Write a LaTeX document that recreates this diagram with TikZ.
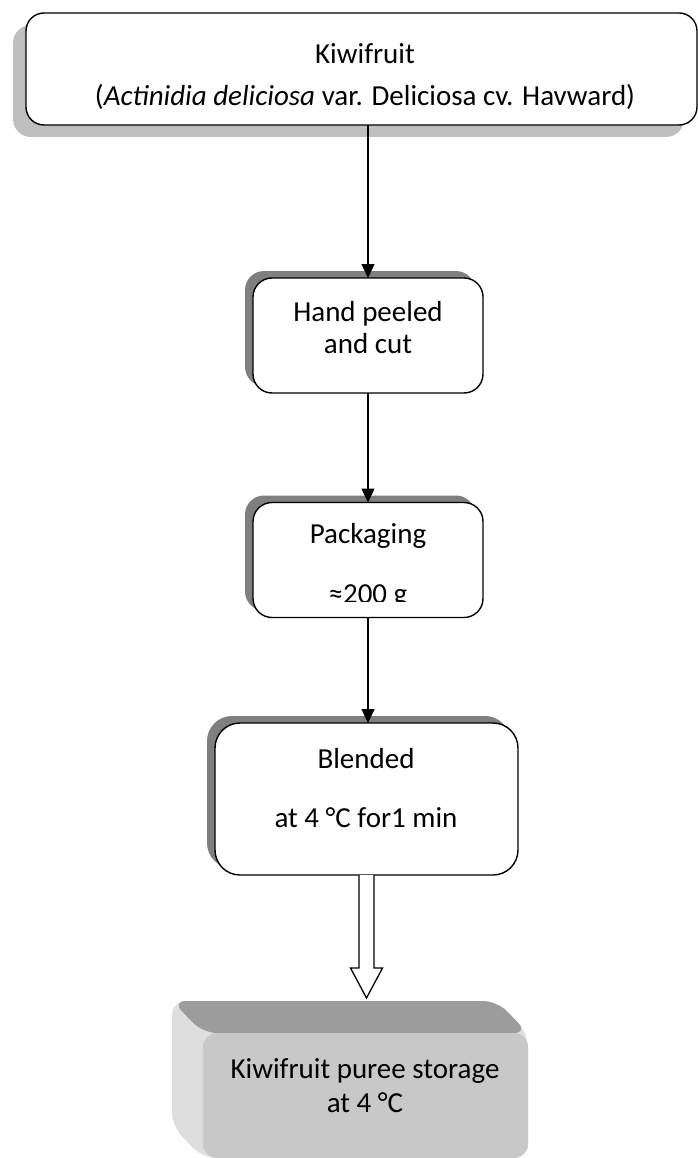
\documentclass[tikz,border=0pt]{standalone}
\usepackage{fontspec}
\setmainfont{Carlito}
\usetikzlibrary{arrows.meta,calc,shadows}
\definecolor{shadowlight}{HTML}{BFBFBF}
\definecolor{shadowdark}{HTML}{7F7F7F}
\definecolor{bevtop}{HTML}{9C9C9C}
\definecolor{bevside}{HTML}{DEDEDE}
\definecolor{bevfront}{HTML}{C8C8C8}
% top bevel: light where it meets the side face, then flat grey
\pgfdeclarehorizontalshading{bevtopshade}{100bp}{color(0bp)=(bevside); color(2bp)=(bevside); color(12bp)=(bevtop); color(100bp)=(bevtop)}
\begin{document}
\begin{tikzpicture}[x=1pt,y=-1pt,
  every node/.style={inner sep=0pt, outer sep=0pt},
  txt/.style={anchor=base, font=\fontsize{29}{34}\selectfont},
  procbox/.style={draw=black, line width=1.4pt, fill=white, rounded corners=#1},
  softshadow/.style={general shadow={fill=shadowlight, shadow xshift=-13pt, shadow yshift=-12pt}},
  hardshadow/.style={general shadow={fill=shadowdark, shadow xshift=-8pt, shadow yshift=7pt}},
  flow/.style={draw=black, line width=1.5pt, -{Triangle[length=14pt,width=13pt]}},
  hollow/.style={draw=black, line width=1.3pt, fill=white, line join=miter}
]
\useasboundingbox (0,0) rectangle (697,1158);

% process boxes
\node[procbox=18pt, softshadow, minimum width=671pt, minimum height=112pt] (src) at (361.5,69) {};
\node[procbox=19pt, hardshadow, minimum width=230pt, minimum height=115pt] (peel) at (368,335.5) {};
\node[procbox=19pt, hardshadow, minimum width=230pt, minimum height=115pt] (pack) at (368,560) {};
\node[procbox=25pt, hardshadow, minimum width=303pt, minimum height=152pt] (blend) at (366.5,799) {};

% box texts
\node[txt] (srcA) at (365,64) {Kiwifruit};
\node[txt] (srcB) at (365,106) {(\textit{Actinidia deliciosa} var. Deliciosa cv. Havward)};
\node[txt] (peelA) at (368,321) {Hand peeled};
\node[txt] (peelB) at (368,353) {and cut};
\node[txt] (packA) at (368,543) {Packaging};
\begin{scope}
  \clip (250,560) rectangle (486,601);
  \node[txt] (packB) at (368,603) {≈200 g};
\end{scope}
\node[txt] (blendA) at (366,768) {Blended};
\node[txt] (blendB) at (366,827) {at 4 °C for1 min};

% connectors
\draw[flow] (src.south -| peel.north) -- (peel.north);
\draw[flow] (peel.south) -- (pack.north);
\draw[flow] (pack.south) -- (pack.south |- blend.north);

% bevelled storage block
\fill[bevside, rounded corners=14pt] (172,1126) -- (172,1001) -- (497,1001) -- (528,1033) -- (528,1158) -- (203,1158) -- cycle;
\shade[shading=bevtopshade, rounded corners=14pt] (172,1001) -- (497,1001) -- (528,1033) -- (203,1033) -- cycle;
\node[fill=bevfront, rounded corners=14pt, minimum width=325pt, minimum height=125pt] (store) at (365.5,1095.5) {};
\node[txt] (storeA) at (365,1078) {Kiwifruit puree storage};
\node[txt] (storeB) at (365,1112) {at 4 °C};

% hollow block arrow into storage
\coordinate (bTip) at (366.5,998);
\draw[hollow] ($(blend.south)+(-7.5,0)$) -- ($(blend.south)+(-7.5,93)$) -- ($(blend.south)+(-16,93)$) -- (bTip)
  -- ($(blend.south)+(16,93)$) -- ($(blend.south)+(7.5,93)$) -- ($(blend.south)+(7.5,0)$);
\end{tikzpicture}
\end{document}
